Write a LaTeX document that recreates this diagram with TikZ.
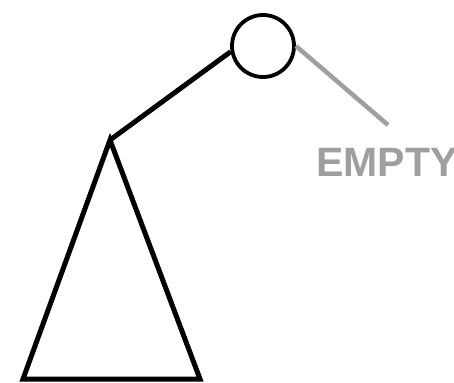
\documentclass[tikz,border=0pt]{standalone}
\usepackage{fontspec}
\setsansfont{Liberation Sans}
\usepackage{tikz}

\begin{document}
\begin{tikzpicture}[x=1pt,y=-1pt,line join=miter,
  treenode/.style={circle,draw,line width=3.8pt,minimum size=62pt,inner sep=0pt},
  nilnode/.style={font=\sffamily\bfseries\fontsize{41}{41}\selectfont,text=gray!75,anchor=west,inner sep=0pt}]
 \useasboundingbox (0,0) rectangle (454,382);
 \node[treenode] (root) at (263,46) {};
 \coordinate (apex) at (110,140);
 \coordinate (nilend) at (388,125);
 \node[nilnode] (empty) at (316,162) {EMPTY};
 \draw[line width=5pt] (apex) -- (root.190);
 \draw[line width=5pt] (apex) -- (23,379) -- (200,379) -- cycle;
 \draw[line width=4.5pt,gray!75] (root.east) -- (nilend);
\end{tikzpicture}
\end{document}
